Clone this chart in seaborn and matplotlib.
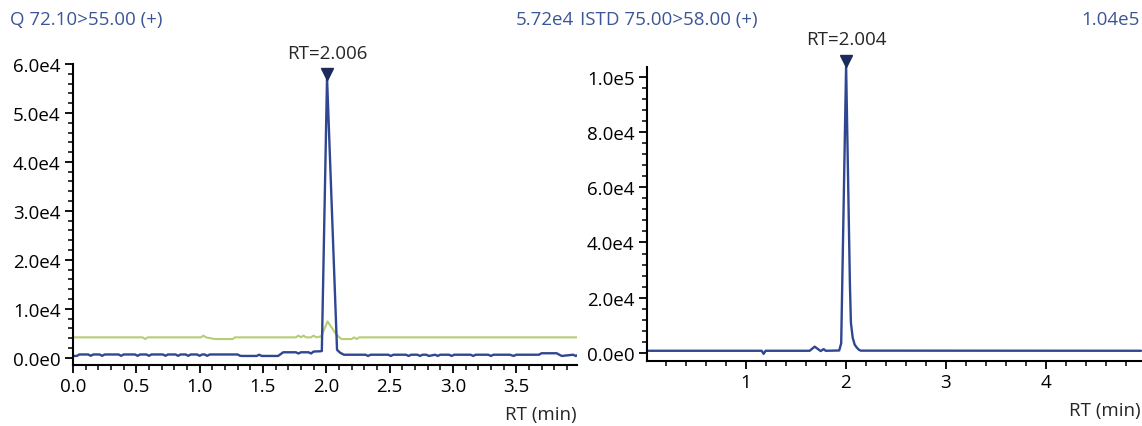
import numpy as np
import pandas as pd
import matplotlib
matplotlib.use("Agg")
import matplotlib.pyplot as plt
import matplotlib.transforms as mtransforms
from matplotlib.ticker import MultipleLocator, FuncFormatter
import seaborn as sns

sns.set_style("white")
plt.rcParams['font.family'] = ['Open Sans', 'DejaVu Sans']

# Q 72.10>55.00 (+) quantifier trace
q_rt = [0.00, 0.03, 0.05, 0.12, 0.14, 0.16, 0.21, 0.23, 0.25, 0.36, 0.38, 0.40,
        0.49, 0.51, 0.53, 0.58, 0.60, 0.62, 0.71, 0.73, 0.75, 0.81, 0.83, 0.85,
        0.89, 0.91, 0.93, 0.98, 1.00, 1.02, 1.04, 1.06, 1.08, 1.30, 1.32, 1.34,
        1.45, 1.47, 1.49, 1.62, 1.66, 1.76, 1.78, 1.80, 1.86, 1.88, 1.90, 1.95,
        1.965, 2.006, 2.085, 2.11, 2.14, 2.31, 2.33, 2.35, 2.49, 2.51, 2.53,
        2.63, 2.65, 2.67, 2.72, 2.74, 2.76, 2.79, 2.81, 2.86, 2.88, 2.90, 2.97,
        2.99, 3.01, 3.14, 3.16, 3.18, 3.28, 3.30, 3.32, 3.45, 3.48, 3.50, 3.68,
        3.70, 3.82, 3.84, 3.86, 3.95, 3.97, 3.99]
q_int = [350, 350, 650, 650, 380, 650, 650, 380, 650, 650, 380, 650,
         650, 380, 650, 650, 380, 650, 650, 380, 650, 650, 380, 650,
         650, 380, 650, 650, 380, 650, 650, 380, 650, 650, 380, 350,
         350, 600, 350, 350, 1100, 1100, 850, 1100, 1100, 850, 1250, 1300,
         1350, 57200, 1600, 1000, 600, 600, 350, 600, 600, 350, 600,
         600, 350, 600, 600, 350, 600, 600, 350, 600, 350, 600, 600,
         350, 600, 600, 350, 600, 600, 350, 600, 600, 350, 600, 600,
         900, 900, 600, 350, 600, 350, 600]

# qualifier trace (green)
qual_rt = [0.00, 0.55, 0.57, 0.59, 1.01, 1.03, 1.05, 1.12, 1.26, 1.28, 1.30,
           1.76, 1.78, 1.80, 1.82, 1.84, 1.88, 1.90, 1.92, 1.96, 2.01, 2.08,
           2.12, 2.20, 2.22, 2.24, 2.26, 3.99]
qual_int = [4150, 4150, 3800, 4150, 4150, 4500, 4150, 3800, 3800, 4150, 4150,
            4150, 4500, 4150, 4500, 4150, 4150, 4500, 4150, 4350, 7400, 4700,
            3800, 3800, 4150, 3800, 4150, 4150]

# ISTD 75.00>58.00 (+) trace
istd_rt = [0.015, 1.16, 1.18, 1.20, 1.64, 1.69, 1.72, 1.75, 1.78, 1.80, 1.935,
           1.955, 2.004, 2.042, 2.052, 2.07, 2.09, 2.11, 2.13, 2.15, 4.95]
istd_int = [800, 800, -300, 800, 800, 2300, 1500, 700, 1400, 800, 900,
            3500, 104000, 25000, 11000, 5500, 3000, 2000, 1200, 850, 800]

panels = [
    dict(title="Q 72.10>55.00 (+)", max_label="5.72e4", peak_rt=2.006, peak_h=57200,
         xlim=(0, 3.98), ylim=(-1500, 60000), xmaj=0.5, xmin=0.1, ymaj=1e4, ymin=2e3,
         xfmt="%.1f", lab_off=11),
    dict(title="ISTD 75.00>58.00 (+)", max_label="1.04e5", peak_rt=2.004, peak_h=104000,
         xlim=(0.015, 4.95), ylim=(-2900, 103500), xmaj=1, xmin=0.2, ymaj=2e4, ymin=4e3,
         xfmt="%d", lab_off=13),
]

blue = "#2f4690"
green = "#b6ce74"
title_col = "#3b5596"
marker_col = "#1a2b5c"


def sci_fmt(v, pos):
    if v == 0:
        return "0.0e0"
    e = int(np.floor(np.log10(abs(v))))
    return f"{v / 10**e:.1f}e{e}"


def main():
    fig = plt.figure(figsize=(11.42, 4.27), dpi=100)
    ax1 = fig.add_axes([73 / 1142, 61 / 427, 504 / 1142, 301 / 427])
    ax2 = fig.add_axes([647 / 1142, 65 / 427, 494 / 1142, 294 / 427])

    sns.lineplot(x=qual_rt, y=qual_int, ax=ax1, color=green, lw=1.5,
                 estimator=None, sort=False)
    sns.lineplot(x=q_rt, y=q_int, ax=ax1, color=blue, lw=1.7,
                 estimator=None, sort=False)
    sns.lineplot(x=istd_rt, y=istd_int, ax=ax2, color=blue, lw=1.7,
                 estimator=None, sort=False)
    for ln in ax2.lines:
        ln.set_clip_on(False)

    for ax, p in zip([ax1, ax2], panels):
        ax.set_xlim(*p["xlim"])
        ax.set_ylim(*p["ylim"])
        ax.xaxis.set_major_locator(MultipleLocator(p["xmaj"]))
        ax.xaxis.set_minor_locator(MultipleLocator(p["xmin"]))
        ax.yaxis.set_major_locator(MultipleLocator(p["ymaj"]))
        ax.yaxis.set_minor_locator(MultipleLocator(p["ymin"]))
        ax.xaxis.set_major_formatter(FuncFormatter(lambda v, pos, f=p["xfmt"]: f % v))
        ax.yaxis.set_major_formatter(FuncFormatter(sci_fmt))
        ax.tick_params(which="major", direction="out", length=6, width=1.3,
                       labelsize=13.5, colors="black", pad=3)
        ax.tick_params(which="minor", direction="out", length=3.5, width=1.3)
        ax.tick_params(axis="x", which="both", bottom=True)
        ax.tick_params(axis="y", which="both", left=True)
        for side in ["top", "right"]:
            ax.spines[side].set_visible(False)
        for side in ["left", "bottom"]:
            ax.spines[side].set_linewidth(1.5)
            ax.spines[side].set_color("black")
        ax.set_xlabel("RT (min)", loc="right", fontsize=13.5, labelpad=7)
        ax.set_ylabel("")
        ax.grid(False)

        off = mtransforms.offset_copy(ax.transData, fig=fig, y=3, units="points")
        ax.plot([p["peak_rt"]], [p["peak_h"]], marker="v", markersize=8,
                color=marker_col, transform=off, clip_on=False)
        ax.annotate(f"RT={p['peak_rt']:.3f}", xy=(p["peak_rt"], p["peak_h"]),
                    xytext=(0, p["lab_off"]), textcoords="offset points", ha="center",
                    va="bottom", fontsize=13.5, annotation_clip=False)

    fig.text(10 / 1142, 0.952, panels[0]["title"], color=title_col, fontsize=13.5,
             ha="left", va="center")
    fig.text(574 / 1142, 0.952, panels[0]["max_label"], color=title_col, fontsize=13.5,
             ha="right", va="center")
    fig.text(580 / 1142, 0.952, panels[1]["title"], color=title_col, fontsize=13.5,
             ha="left", va="center")
    fig.text(1140 / 1142, 0.952, panels[1]["max_label"], color=title_col, fontsize=13.5,
             ha="right", va="center")

    fig.savefig("out.png", dpi=100)


if __name__ == "__main__":
    main()
